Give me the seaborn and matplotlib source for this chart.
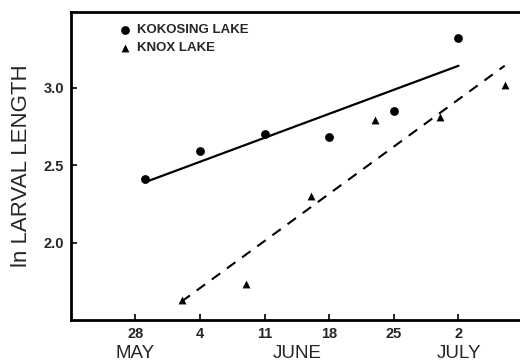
import matplotlib
matplotlib.use("Agg")
import matplotlib.pyplot as plt
import matplotlib.transforms as mtransforms
import seaborn as sns
import pandas as pd

# days counted from 28 May
kokosing_day = [1, 7, 14, 21, 28, 35]
kokosing_ln = [2.41, 2.59, 2.70, 2.68, 2.85, 3.32]
knox_day = [5, 12, 19, 26, 33, 40]
knox_ln = [1.63, 1.735, 2.30, 2.79, 2.81, 3.02]

tick_days = [0, 7, 14, 21, 28, 35]
tick_labels = ["28", "4", "11", "18", "25", "2"]
month_names = ["MAY", "JUNE", "JULY"]
month_days = [0, 17.5, 35]

kok = pd.DataFrame({"day": kokosing_day, "ln": kokosing_ln})
knox = pd.DataFrame({"day": knox_day, "ln": knox_ln})

sns.set_style("white")
plt.rcParams['font.family'] = ['Liberation Sans', 'DejaVu Sans']

fig = plt.figure(figsize=(5.2, 3.62), dpi=100)
ax = fig.add_axes([0.136, 0.116, 0.87, 0.851])

sns.regplot(data=kok, x="day", y="ln", ax=ax, ci=None, color="black",
            marker="o", scatter_kws={"s": 40, "linewidths": 0, "alpha": 1},
            line_kws={"lw": 1.6}, label="KOKOSING LAKE")
sns.regplot(data=knox, x="day", y="ln", ax=ax, ci=None, color="black",
            marker="^", scatter_kws={"s": 32, "linewidths": 0, "alpha": 1},
            line_kws={"lw": 1.5, "ls": (0, (5, 4))}, label="KNOX LAKE")

ax.set_xlim(-7, 42)
ax.set_ylim(1.5, 3.49)
ax.set_xticks(tick_days)
ax.set_xticklabels(tick_labels, fontweight="bold", fontsize=10.5)
ax.set_yticks([2.0, 2.5, 3.0])
ax.set_yticklabels(["2.0", "2.5", "3.0"], fontweight="bold", fontsize=10.5)
ax.tick_params(direction="in", length=4, width=1.2, pad=5, color="black",
               bottom=True, left=True)
ax.set_xlabel("")
ax.set_ylabel("ln LARVAL LENGTH", fontsize=16, labelpad=8)

for side in ["left", "bottom", "top"]:
    ax.spines[side].set_linewidth(2)
    ax.spines[side].set_color("black")
ax.spines["right"].set_visible(False)

trans = mtransforms.blended_transform_factory(ax.transData, ax.transAxes)
for name, d in zip(month_names, month_days):
    ax.text(d, -0.108, name, transform=trans, ha="center", va="center", fontsize=13.5)

handles, labels = ax.get_legend_handles_labels()
leg = ax.legend(handles[0::2] if len(handles) > 2 else handles,
                labels[0::2] if len(labels) > 2 else labels,
                loc="upper left", bbox_to_anchor=(0.08, 1.0), frameon=False,
                prop={"weight": "bold", "size": 9.5}, handletextpad=0.4,
                labelspacing=0.45, handlelength=1)

fig.savefig("out.png", dpi=100)
